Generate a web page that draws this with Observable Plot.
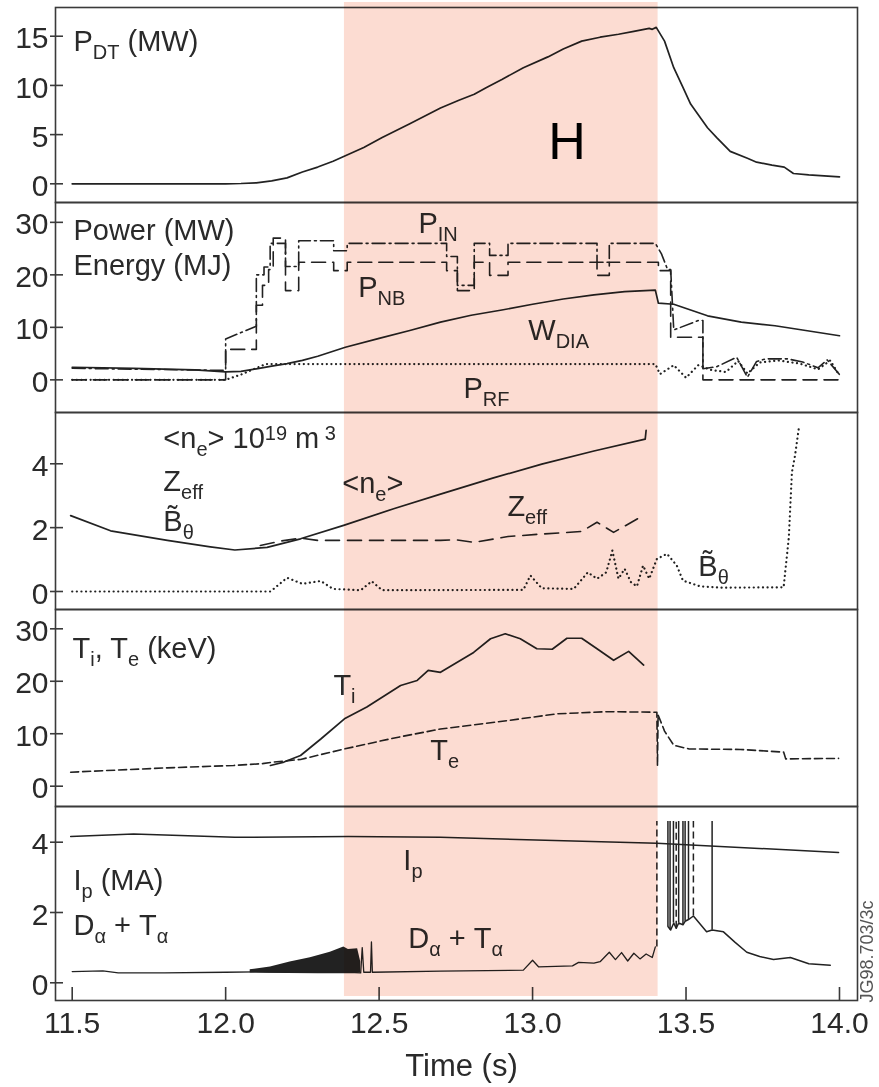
<!DOCTYPE html>
<html><head><meta charset="utf-8">
<script src="https://cdn.jsdelivr.net/npm/d3@7"></script>
<script src="https://cdn.jsdelivr.net/npm/@observablehq/plot@0.6"></script>
<style>
body{margin:0;background:#fff;}
#chart{width:879px;}
#chart svg{display:block;overflow:visible;}
</style></head><body><div id="chart"></div>
<script>
// ---------- data (time in s, values in panel units) ----------
const hMode = [12.387, 13.409];
const xTicks = [11.5, 12.0, 12.5, 13.0, 13.5, 14.0];

const pDT = [[11.5,0],[12.0,0],[12.05,0.03],[12.1,0.1],[12.15,0.3],[12.2,0.6],[12.25,1.2],[12.3,1.7],[12.35,2.3],[12.39,2.85],[12.45,3.7],[12.51,4.7],[12.6,6.1],[12.7,7.7],[12.76,8.5],[12.81,9.1],[12.85,9.8],[12.9,10.6],[12.97,11.8],[13.05,12.9],[13.1,13.7],[13.16,14.5],[13.22,14.9],[13.28,15.2],[13.33,15.5],[13.38,15.8],[13.39,15.7],[13.403,15.9],[13.43,14.5],[13.46,11.8],[13.49,9.8],[13.515,8.1],[13.57,5.7],[13.6,4.7],[13.644,3.3],[13.7,2.6],[13.73,2.2],[13.78,1.9],[13.82,1.7],[13.85,1.05],[13.9,0.9],[14.0,0.7]];

const pNB = [[11.5,0],[12.0,0],[12.0,5.8],[12.10,5.8],[12.10,14.2],[12.12,14.2],[12.12,18],[12.14,18],[12.14,21],[12.155,21],[12.155,27],[12.195,27],[12.195,17],[12.238,17],[12.238,22.4],[12.352,22.4],[12.352,20.8],[12.396,20.8],[12.396,22.4],[12.72,22.4],[12.72,20.8],[12.755,20.8],[12.755,17],[12.81,17],[12.81,22.4],[12.86,22.4],[12.86,19.9],[12.92,19.9],[12.92,22.4],[13.21,22.4],[13.21,19.9],[13.25,19.9],[13.25,22.4],[13.41,22.4],[13.41,20.8],[13.45,20.8],[13.45,8.1],[13.555,8.1],[13.555,0],[14.0,0]];
const pIN = [[11.5,2.2],[12.0,1.8],[12.0,7.8],[12.10,10.2],[12.10,20],[12.125,20],[12.125,21.5],[12.145,21.5],[12.145,26],[12.195,26],[12.195,21.6],[12.238,21.6],[12.238,26.5],[12.352,26.5],[12.352,24.6],[12.396,24.6],[12.396,26],[12.72,26],[12.72,23.5],[12.755,23.5],[12.755,18],[12.81,18],[12.81,26],[12.86,26],[12.86,23.7],[12.92,23.7],[12.92,26],[13.21,26],[13.21,22.4],[13.25,22.4],[13.25,26],[13.40,26],[13.42,24],[13.44,21],[13.45,21],[13.46,9.5],[13.54,11.3],[13.555,11.3],[13.555,2.1],[13.6,2.5],[13.665,4.3],[13.70,0.5],[13.73,3.5],[13.76,4.0],[13.83,4.0],[13.88,3.4],[13.93,2.3],[13.96,3.8],[14.0,1.0]];
const pRF = [[11.5,0],[12.0,0],[12.05,1.0],[12.13,3.0],[13.40,3.0],[13.415,1.1],[13.46,2.8],[13.50,0.4],[13.54,2.8],[13.58,1.9],[13.63,1.5],[13.67,3.6],[13.70,1.2],[13.74,3.3],[13.80,3.7],[13.87,3.1],[13.93,2.0],[13.97,3.7],[14.0,0.8]];
const wDIA = [[11.5,2.4],[11.7,2.2],[11.9,1.9],[12.0,1.5],[12.05,1.6],[12.1,2.1],[12.15,2.6],[12.2,3.1],[12.25,3.7],[12.3,4.5],[12.39,6.2],[12.5,7.9],[12.6,9.4],[12.7,11.0],[12.8,12.3],[12.9,13.3],[13.0,14.4],[13.1,15.4],[13.2,16.2],[13.3,16.8],[13.40,17.1],[13.41,14.6],[13.46,14.4],[13.57,12.2],[13.68,11.0],[13.79,10.3],[13.89,9.4],[14.0,8.4]];

const nE = [[11.495,2.375],[11.625,1.9],[11.81,1.6],[11.95,1.4],[12.03,1.30],[12.135,1.38],[12.244,1.65],[12.387,2.08],[12.55,2.6],[12.70,3.05],[12.87,3.55],[13.03,3.99],[13.2,4.4],[13.367,4.77],[13.37,5.05]];
const zEff = [[12.113,1.44],[12.18,1.58],[12.244,1.67],[12.3,1.6],[12.7,1.6],[12.75,1.62],[12.81,1.54],[12.92,1.72],[13.03,1.8],[13.16,1.88],[13.21,2.17],[13.264,1.85],[13.35,2.32]];
const bTheta = [[11.5,0],[12.146,0],[12.2,0.43],[12.25,0.24],[12.31,0.33],[12.35,0.08],[12.44,0.04],[12.476,0.32],[12.51,0.04],[12.97,0.05],[12.993,0.5],[13.03,0.1],[13.134,0.08],[13.18,0.6],[13.21,0.4],[13.24,0.6],[13.26,1.28],[13.28,0.4],[13.30,0.71],[13.32,0.3],[13.34,0.16],[13.36,0.81],[13.38,0.4],[13.405,1.02],[13.438,1.18],[13.47,0.81],[13.49,0.34],[13.546,0.16],[13.62,0.12],[13.818,0.13],[13.835,1.7],[13.845,3.73],[13.855,4.25],[13.867,5.08]];

const tE = [[11.495,2.67],[11.81,3.5],[12.026,3.95],[12.12,4.3],[12.157,4.6],[12.244,5.1],[12.387,7.1],[12.55,9.2],[12.70,10.9],[12.917,12.5],[13.08,13.8],[13.243,14.2],[13.405,14.1],[13.407,3.9],[13.409,13.6],[13.43,10.5],[13.46,7.8],[13.51,7.1],[13.677,7.0],[13.818,6.5],[13.825,5.2],[13.997,5.3]];
const tI = [[12.146,3.95],[12.19,4.6],[12.244,5.85],[12.31,9.0],[12.387,12.85],[12.46,15.1],[12.57,19.2],[12.624,20.15],[12.66,22.06],[12.70,21.7],[12.808,25.5],[12.863,28.1],[12.911,29.05],[12.96,28.1],[13.014,26.2],[13.064,26.1],[13.112,28.2],[13.16,28.2],[13.21,26.2],[13.264,24.0],[13.313,25.7],[13.362,23.1]];

const iP = [[11.495,4.16],[11.7,4.23],[12.03,4.14],[12.4,4.16],[12.70,4.14],[13.405,3.97],[13.997,3.71]];
const dAlpha = [[11.5,0.32],[11.6,0.34],[11.65,0.28],[11.8,0.28],[12.0,0.30],[12.1,0.31],[12.2,0.30],[12.3,0.29],[12.4,0.3],[12.44,0.28],[12.445,1.0],[12.45,0.3],[12.472,0.3],[12.475,1.16],[12.478,0.3],[12.7,0.33],[12.97,0.36],[13.0,0.64],[13.02,0.45],[13.13,0.48],[13.15,0.58],[13.2,0.56],[13.22,0.6],[13.25,0.87],[13.27,0.66],[13.29,0.86],[13.31,0.62],[13.33,0.84],[13.35,0.68],[13.37,0.82],[13.39,0.72],[13.40,1.02]];
const dAlphaTail = [[13.441,1.6],[13.45,1.5],[13.46,1.7],[13.468,1.55],[13.476,1.7],[13.49,1.65],[13.497,1.75],[13.508,1.8],[13.524,1.9],[13.567,1.45],[13.585,1.5],[13.622,1.45],[13.66,1.15],[13.698,0.87],[13.74,0.75],[13.785,0.66],[13.84,0.72],[13.9,0.54],[13.97,0.5]];
// [time, lower envelope, upper envelope] of the dense ELM band
const dAlphaBand = [[12.08,0.28,0.37],[12.146,0.27,0.45],[12.21,0.27,0.59],[12.276,0.27,0.71],[12.341,0.27,0.87],[12.385,0.27,1.02],[12.40,0.27,0.95],[12.43,0.28,0.97],[12.44,0.28,0.6]];
// [time, bottom, top(off-scale), dashed]
const dAlphaSpikes = [[13.405,1.02,4.59,1],[13.441,1.6,4.59,0],[13.448,1.5,4.59,0],[13.459,1.7,4.59,0],[13.468,1.55,4.59,1],[13.476,1.7,4.59,0],[13.49,1.65,4.59,0],[13.497,1.75,4.59,0],[13.508,1.8,4.59,0],[13.524,1.9,4.59,1],[13.585,1.5,4.59,0]];

// annotations [time, value at baseline, text]
const p1Labels = [[11.504, 13.48, "P_{DT} (MW)"]];
const hLabel = [[13.112, 2.5, "H"]];
const p2Labels = [[11.504, 26.7, "Power (MW)"], [11.504, 19.9, "Energy (MJ)"], [12.628, 27.9, "P_{IN}"], [12.432, 15.7, "P_{NB}"], [12.986, 7.5, "W_{DIA}"], [12.775, -3.4, "P_{RF}"]];
const p3Labels = [[11.797, 4.48, "<n_{e}> 10^{19} m^{ 3}"], [11.797, 3.16, "Z_{eff}"], [11.797, 1.91, "B\u0303_{θ}"], [12.38, 3.07, "<n_{e}>"], [12.918, 2.38, "Z_{eff}"], [13.54, 0.50, "B\u0303_{θ}"]];
const p4Labels = [[11.501, 24.35, "T_{i}, T_{e} (keV)"], [12.351, 17.3, "T_{i}"], [12.667, 4.9, "T_{e}"]];
const p5Labels = [[11.504, 2.64, "I_{p} (MA)"], [11.504, 1.35, "D_{α} + T_{α}"], [12.579, 3.21, "I_{p}"], [12.595, 0.98, "D_{α} + T_{α}"]];

// ---------- styling ----------
const W = 879, ML = 55, MR = 22;
const xDomain = [11.4456, 14.0587];
const INK = "#222", FRAME = "#3a3a3a", TXT = "#2a2a2a", SHADE = "#fcdcd2";
const FONT = "'Liberation Sans', Arial, Helvetica, sans-serif";
const LBL = 29, SUB = 20, SUBDY = 8, SUPDY = 8;

const X = d => d[0], Y = d => d[1];
const line = (data, o = {}) => Plot.line(data, {x: X, y: Y, stroke: INK, strokeWidth: 1.7, ...o});
const labels = (data, o = {}) => Plot.text(data, {x: X, y: Y, text: d => d[2], textAnchor: "start", lineAnchor: "bottom", fontSize: LBL, fill: TXT, ...o});
const DOT = {strokeDasharray: "0.1,4.5", strokeLinecap: "round", strokeWidth: 2.2};

function panel({height, marginTop = 0, marginBottom = 0, yDomain, yTicks, marks, shadeTop = 0, shadeBottom = 0, xAxis = false}) {
  return Plot.plot({
    width: W, height, marginLeft: ML, marginRight: MR, marginTop, marginBottom,
    style: {fontFamily: FONT, background: "transparent", overflow: "visible", color: TXT},
    x: {domain: xDomain, axis: null},
    y: {domain: yDomain},
    marks: [
      Plot.frame({stroke: FRAME, strokeWidth: 1.6}),
      Plot.axisY(yTicks, {tickSize: 13, dx: 8, fill: "none", stroke: FRAME, strokeWidth: 1.6, label: null}),
      Plot.axisY(yTicks, {tickSize: 0, tickPadding: 7, dy: 2.5, fontSize: 30, fill: TXT, label: null}),
      ...(xAxis ? [
        Plot.axisX(xTicks, {anchor: "bottom", tickSize: 13, dy: -13, fill: "none", stroke: FRAME, strokeWidth: 1.6, label: null}),
        Plot.axisX(xTicks, {anchor: "bottom", tickSize: 0, tickPadding: 11, tickFormat: d3.format(".1f"), fontSize: 30, fill: TXT, label: null}),
        Plot.text(["Time (s)"], {frameAnchor: "bottom", dx: 5, dy: 75, lineAnchor: "bottom", fontSize: 31, fill: TXT}),
        Plot.text(["JG98.703/3c"], {frameAnchor: "bottom-right", dx: 15, dy: 2, rotate: -90, textAnchor: "start", fontSize: 18, fill: "#555"})
      ] : []),
      ...marks,
      Plot.rect([hMode], {x1: d => d[0], x2: d => d[1], fill: SHADE, mixBlendMode: "multiply", insetTop: shadeTop, insetBottom: shadeBottom})
    ]
  });
}

const panels = [
  panel({height: 202, marginTop: 7, yDomain: [-1.9, 17.92], yTicks: [0, 5, 10, 15], shadeTop: -5,
    marks: [line(pDT), labels(p1Labels), labels(hLabel, {textAnchor: "middle", fontSize: 52, fill: "#000"})]}),
  panel({height: 210, yDomain: [-6.22, 33.78], yTicks: [0, 10, 20, 30],
    marks: [
      line(wDIA),
      line(pNB, {strokeDasharray: "14,7", strokeWidth: 1.6}),
      line(pIN, {strokeDasharray: "13,4,2,4", strokeWidth: 1.6}),
      line(pRF, DOT),
      labels(p2Labels)
    ]}),
  panel({height: 197, yDomain: [-0.564, 5.606], yTicks: [0, 2, 4],
    marks: [
      line(nE),
      line(zEff, {strokeDasharray: "14,8", strokeWidth: 1.6}),
      line(bTheta, DOT),
      labels(p3Labels)
    ]}),
  panel({height: 197, yDomain: [-3.87, 33.68], yTicks: [0, 10, 20, 30],
    marks: [
      line(tI),
      line(tE, {strokeDasharray: "8,4", strokeWidth: 1.6}),
      labels(p4Labels)
    ]}),
  panel({height: 281, marginBottom: 87, yDomain: [-0.504, 5.016], yTicks: [0, 2, 4], shadeBottom: 4, xAxis: true,
    marks: [
      line(iP, {strokeWidth: 1.5}),
      Plot.areaY(dAlphaBand, {x: X, y1: d => d[1], y2: d => d[2], fill: INK}),
      line(dAlpha, {strokeWidth: 1.3}),
      line(dAlphaTail, {strokeWidth: 1.5}),
      Plot.ruleX(dAlphaSpikes.filter(d => !d[3]), {x: X, y1: Y, y2: d => d[2], stroke: INK, strokeWidth: 1.5}),
      Plot.ruleX(dAlphaSpikes.filter(d => d[3]), {x: X, y1: Y, y2: d => d[2], stroke: INK, strokeWidth: 1.5, strokeDasharray: "7,4"}),
      labels(p5Labels)
    ]})
];

// rich text: _{sub} and ^{sup}
const NS = "http://www.w3.org/2000/svg";
function richText(root) {
  root.querySelectorAll("text").forEach(t => {
    const s = t.textContent;
    if (!/[_^]\{/.test(s)) return;
    const parts = s.split(/([_^]\{[^}]*\})/).filter(p => p !== "");
    t.textContent = "";
    let off = 0;
    for (const p of parts) {
      const ts = document.createElementNS(NS, "tspan");
      let target = 0, txt = p;
      if (p.startsWith("_{")) { target = SUBDY; txt = p.slice(2, -1); ts.setAttribute("font-size", SUB); }
      else if (p.startsWith("^{")) { target = -SUPDY; txt = p.slice(2, -1); ts.setAttribute("font-size", SUB); }
      if (target - off) ts.setAttribute("dy", target - off);
      off = target;
      ts.setAttribute("style", "white-space:pre");
      ts.textContent = txt;
      t.appendChild(ts);
    }
  });
}

const root = document.getElementById("chart");
for (const p of panels) { richText(p); root.appendChild(p); }
</script></body></html>
